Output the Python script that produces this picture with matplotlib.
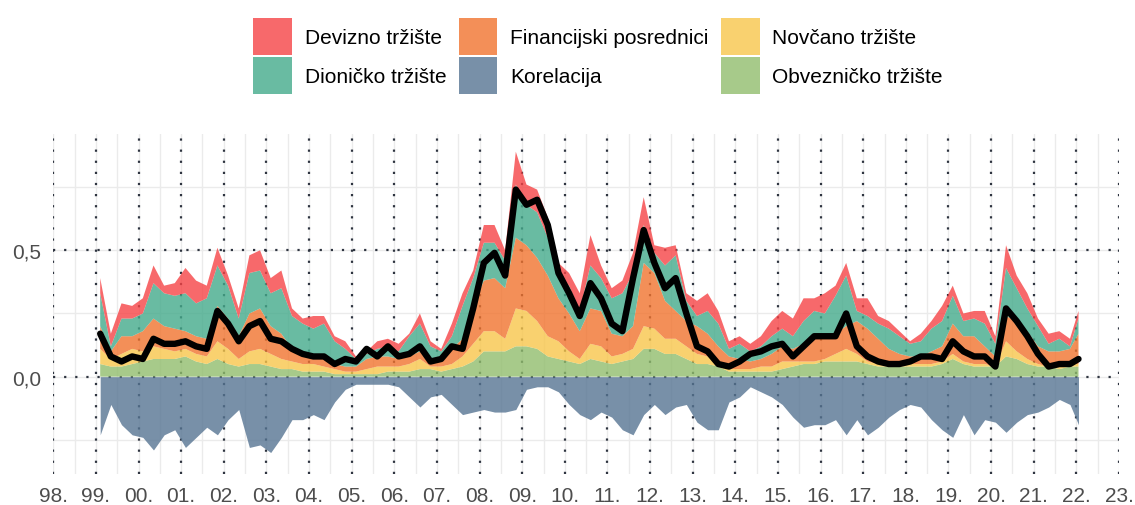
import numpy as np
import matplotlib
matplotlib.use("Agg")
import matplotlib.pyplot as plt
from matplotlib.patches import Patch

plt.rcParams['font.family'] = ['Liberation Sans', 'DejaVu Sans']

# quarterly readings, 1999.1 .. 2021.85 plus final point 2022.05
dates = np.append(1999.1 + 0.25 * np.arange(92), 2022.05)

obveznicko = [0.05, 0.04, 0.04, 0.05, 0.06, 0.07, 0.07, 0.07, 0.08, 0.06,
              0.05, 0.07, 0.05, 0.04, 0.05, 0.05, 0.04, 0.03, 0.03, 0.02,
              0.02, 0.02, 0.01, 0.01, 0.01, 0.01, 0.01, 0.02, 0.02, 0.02,
              0.03, 0.03, 0.02, 0.03, 0.04, 0.06, 0.10, 0.10, 0.10, 0.12,
              0.12, 0.11, 0.08, 0.07, 0.06, 0.05, 0.07, 0.06, 0.05, 0.06,
              0.07, 0.11, 0.11, 0.09, 0.09, 0.07, 0.05, 0.05, 0.04, 0.02,
              0.02, 0.02, 0.02, 0.02, 0.03, 0.04, 0.05, 0.05, 0.06, 0.06,
              0.06, 0.06, 0.05, 0.04, 0.04, 0.04, 0.04, 0.04, 0.04, 0.05,
              0.07, 0.05, 0.04, 0.04, 0.04, 0.08, 0.07, 0.05, 0.04, 0.04,
              0.03, 0.04, 0.04]
novcano = [0.06, 0.03, 0.05, 0.06, 0.04, 0.05, 0.04, 0.03, 0.03, 0.03,
           0.03, 0.07, 0.06, 0.03, 0.05, 0.06, 0.05, 0.04, 0.03, 0.03,
           0.03, 0.02, 0.02, 0.01, 0.01, 0.02, 0.03, 0.02, 0.02, 0.03,
           0.04, 0.01, 0.02, 0.02, 0.04, 0.07, 0.08, 0.08, 0.05, 0.15,
           0.14, 0.11, 0.08, 0.07, 0.04, 0.02, 0.06, 0.06, 0.03, 0.03,
           0.04, 0.09, 0.08, 0.06, 0.06, 0.05, 0.04, 0.03, 0.02, 0.01,
           0.01, 0.01, 0.02, 0.02, 0.03, 0.02, 0.01, 0.01, 0.01, 0.03,
           0.05, 0.03, 0.01, 0.01, 0.01, 0.01, 0.01, 0.01, 0.01, 0.01,
           0.02, 0.01, 0.01, 0.01, 0.00, 0.06, 0.03, 0.02, 0.01, 0.00,
           0.01, 0.01, 0.01]
financijski = [0.09, 0.03, 0.07, 0.05, 0.08, 0.11, 0.09, 0.09, 0.07, 0.07,
               0.07, 0.14, 0.12, 0.09, 0.15, 0.16, 0.11, 0.10, 0.05, 0.05,
               0.03, 0.04, 0.02, 0.02, 0.02, 0.04, 0.04, 0.04, 0.03, 0.03,
               0.03, 0.03, 0.02, 0.06, 0.07, 0.15, 0.20, 0.21, 0.20, 0.28,
               0.26, 0.25, 0.24, 0.17, 0.15, 0.11, 0.14, 0.14, 0.09, 0.07,
               0.09, 0.25, 0.22, 0.15, 0.11, 0.10, 0.11, 0.09, 0.06, 0.05,
               0.04, 0.03, 0.03, 0.05, 0.06, 0.05, 0.07, 0.09, 0.09, 0.08,
               0.09, 0.13, 0.13, 0.10, 0.06, 0.04, 0.03, 0.03, 0.05, 0.06,
               0.12, 0.10, 0.11, 0.07, 0.04, 0.10, 0.12, 0.11, 0.07, 0.06,
               0.06, 0.06, 0.12]
dionicko = [0.13, 0.02, 0.07, 0.07, 0.07, 0.14, 0.13, 0.13, 0.15, 0.13,
            0.16, 0.16, 0.13, 0.07, 0.16, 0.15, 0.13, 0.18, 0.13, 0.11,
            0.11, 0.13, 0.09, 0.07, 0.03, 0.02, 0.03, 0.04, 0.03, 0.08,
            0.11, 0.05, 0.04, 0.05, 0.13, 0.11, 0.15, 0.14, 0.11, 0.21,
            0.16, 0.18, 0.15, 0.09, 0.11, 0.08, 0.17, 0.13, 0.14, 0.17,
            0.21, 0.15, 0.08, 0.14, 0.22, 0.08, 0.04, 0.09, 0.09, 0.03,
            0.06, 0.04, 0.05, 0.07, 0.07, 0.05, 0.09, 0.11, 0.09, 0.15,
            0.20, 0.04, 0.05, 0.06, 0.08, 0.07, 0.05, 0.06, 0.09, 0.10,
            0.11, 0.06, 0.07, 0.09, 0.05, 0.19, 0.13, 0.09, 0.08, 0.03,
            0.05, 0.01, 0.06]
devizno = [0.06, 0.05, 0.06, 0.05, 0.06, 0.07, 0.03, 0.05, 0.10, 0.09,
           0.05, 0.07, 0.04, 0.04, 0.07, 0.08, 0.06, 0.07, 0.03, 0.02,
           0.05, 0.03, 0.02, 0.03, 0.01, 0.01, 0.03, 0.03, 0.03, 0.01,
           0.04, 0.02, 0.01, 0.05, 0.05, 0.03, 0.07, 0.07, 0.04, 0.13,
           0.08, 0.09, 0.08, 0.05, 0.05, 0.07, 0.12, 0.05, 0.04, 0.05,
           0.08, 0.11, 0.03, 0.07, 0.04, 0.03, 0.06, 0.07, 0.05, 0.03,
           0.03, 0.03, 0.04, 0.06, 0.07, 0.07, 0.09, 0.05, 0.08, 0.04,
           0.05, 0.05, 0.07, 0.03, 0.03, 0.02, 0.01, 0.03, 0.03, 0.06,
           0.04, 0.03, 0.03, 0.05, 0.03, 0.09, 0.05, 0.06, 0.03, 0.04,
           0.03, 0.03, 0.03]
korelacija = [-0.23, -0.11, -0.19, -0.23, -0.24, -0.29, -0.23, -0.21, -0.28, -0.24,
              -0.20, -0.23, -0.17, -0.13, -0.28, -0.27, -0.30, -0.24, -0.17, -0.17,
              -0.15, -0.17, -0.10, -0.05, -0.03, -0.03, -0.03, -0.03, -0.04, -0.08,
              -0.12, -0.08, -0.07, -0.11, -0.15, -0.14, -0.13, -0.14, -0.14, -0.13,
              -0.05, -0.04, -0.04, -0.06, -0.11, -0.15, -0.17, -0.14, -0.16, -0.21,
              -0.23, -0.15, -0.11, -0.15, -0.12, -0.11, -0.18, -0.21, -0.21, -0.10,
              -0.08, -0.04, -0.06, -0.08, -0.11, -0.16, -0.20, -0.19, -0.19, -0.17,
              -0.23, -0.17, -0.23, -0.20, -0.16, -0.13, -0.11, -0.12, -0.17, -0.21,
              -0.24, -0.15, -0.23, -0.17, -0.18, -0.22, -0.18, -0.15, -0.14, -0.12,
              -0.09, -0.11, -0.19]
ciss = [0.17, 0.08, 0.06, 0.08, 0.07, 0.15, 0.13, 0.13, 0.14, 0.12,
        0.11, 0.26, 0.21, 0.14, 0.20, 0.22, 0.15, 0.14, 0.11, 0.09,
        0.08, 0.08, 0.05, 0.07, 0.06, 0.11, 0.08, 0.12, 0.08, 0.09,
        0.12, 0.06, 0.07, 0.12, 0.11, 0.27, 0.45, 0.49, 0.40, 0.74,
        0.68, 0.70, 0.60, 0.41, 0.33, 0.24, 0.37, 0.31, 0.21, 0.18,
        0.39, 0.58, 0.45, 0.35, 0.39, 0.25, 0.12, 0.10, 0.05, 0.04,
        0.06, 0.09, 0.10, 0.12, 0.13, 0.08, 0.12, 0.16, 0.16, 0.16,
        0.25, 0.12, 0.08, 0.06, 0.05, 0.05, 0.06, 0.08, 0.08, 0.07,
        0.14, 0.10, 0.08, 0.08, 0.04, 0.27, 0.22, 0.16, 0.09, 0.04,
        0.05, 0.05, 0.07]

years = list(range(1998, 2024))
year_labels = [f"{y % 100:02d}." for y in years]
y_ticks = [0.0, 0.5]
y_labels = ["0,0", "0,5"]

names = ["Devizno tržište", "Dioničko tržište", "Financijski posrednici",
         "Korelacija", "Novčano tržište", "Obvezničko tržište"]
# base colours drawn with alpha 0.8 on white
colors = {"Devizno tržište": "#F64446", "Dioničko tržište": "#44AA8B",
          "Financijski posrednici": "#F1732E", "Korelacija": "#567492",
          "Novčano tržište": "#F8C64B", "Obvezničko tržište": "#91BD6D"}
AREA_ALPHA = 0.8

fig = plt.figure(figsize=(11.35, 5.06), dpi=100)
ax = fig.add_axes([53.3 / 1135, 1 - 475 / 506, (1119 - 53.3) / 1135, (475 - 135) / 506])
ax.set_xlim(1998, 2023)
ax.set_ylim(-0.385, 0.96)

# light grid
for yv in [-0.25, 0.0, 0.25, 0.5, 0.75]:
    ax.axhline(yv, color="#EBEBEB", lw=1.0, zorder=0)
for xv in np.arange(1998, 2023.01, 0.5):
    ax.axvline(xv, color="#EBEBEB", lw=1.0, zorder=0)

# dotted reference lines (beneath the translucent areas)
for yv in y_ticks:
    ax.axhline(yv, color="#2E3440", lw=1.6, dashes=(1, 4), zorder=0.5)
for xv in years:
    ax.axvline(xv, color="#2E3440", lw=1.6, dashes=(1, 4), zorder=0.5)

ax.stackplot(dates, obveznicko, novcano, financijski, dionicko, devizno,
             colors=[colors["Obvezničko tržište"], colors["Novčano tržište"],
                     colors["Financijski posrednici"], colors["Dioničko tržište"],
                     colors["Devizno tržište"]], linewidth=0, alpha=AREA_ALPHA, zorder=1)
ax.fill_between(dates, korelacija, 0, color=colors["Korelacija"], linewidth=0,
                alpha=AREA_ALPHA, zorder=1)

ax.plot(dates, ciss, color="black", lw=4.6, solid_joinstyle="round",
        solid_capstyle="round", zorder=3)

ax.set_xticks(years)
ax.set_xticklabels(year_labels)
ax.set_yticks(y_ticks)
ax.set_yticklabels(y_labels)
ax.tick_params(length=0, labelsize=15, labelcolor="#4D4D4D", pad=9)
for s in ax.spines.values():
    s.set_visible(False)

handles = [Patch(facecolor=colors[n], edgecolor="none", alpha=AREA_ALPHA) for n in names]
fig.legend(handles, names, loc="upper center", bbox_to_anchor=(598 / 1135, 1 - 9 / 506),
           ncol=3, frameon=False, fontsize=15, handlelength=1.85, handleheight=2.35,
           handletextpad=0.62, columnspacing=0.6, labelspacing=0.1, borderpad=0)

fig.savefig("out.png", dpi=100)
